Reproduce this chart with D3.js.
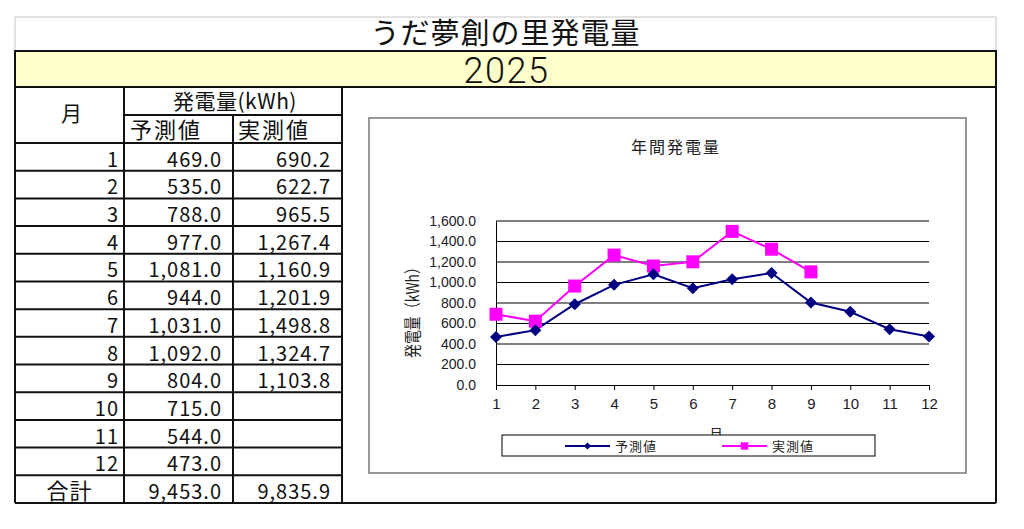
<!DOCTYPE html>
<html>
<head>
<meta charset="utf-8">
<script src="https://cdn.jsdelivr.net/npm/d3@7"></script>
<style>
  html, body { margin: 0; padding: 0; background: #fff; }
  svg { display: block; }
  .jp { font-family: "Noto Sans CJK JP", "Noto Sans", sans-serif; }
  .tick text { font-family: "Liberation Sans Narrow", "Arial Narrow", "Liberation Sans", sans-serif; fill: #1a1a2a; }
  .yax .tick text { font-size: 14px; }
  .xax .tick text { font-size: 15px; }
</style>
</head>
<body>
<div id="main"></div>
<script>
// data
var title = "うだ夢創の里発電量";
var year = "2025";
var months = [1, 2, 3, 4, 5, 6, 7, 8, 9, 10, 11, 12];
var forecast = [469, 535, 788, 977, 1081, 944, 1031, 1092, 804, 715, 544, 473];
var actual = [690.2, 622.7, 965.5, 1267.4, 1160.9, 1201.9, 1498.8, 1324.7, 1103.8];
var yTicks = [0, 200, 400, 600, 800, 1000, 1200, 1400, 1600];
var seriesNames = ["予測値", "実測値"];

var W = 1024, H = 529;
var fmt = d3.format(",.1f");

var svg = d3.select("#main").append("svg")
  .attr("width", W)
  .attr("height", H);

// ---- sheet frame ----
var L = 15, R = 996, T = 17;
var bandTop = 51, bandBot = 87;
var c1 = 124, c2 = 233, c3 = 342;
var hMid = 115, bodyTop = 143, bodyBot = 503;

// title row (light gray cell border)
svg.append("path")
  .attr("d", "M" + L + "," + bandTop + "V" + T + "H" + R + "V" + bandTop)
  .attr("fill", "none")
  .attr("stroke", "#c8c8c8")
  .attr("stroke-width", 1);

// yellow year band
svg.append("rect")
  .attr("x", L).attr("y", bandTop)
  .attr("width", R - L).attr("height", bandBot - bandTop)
  .attr("fill", "#ffffcc")
  .attr("stroke", "#111")
  .attr("stroke-width", 2);

svg.append("text")
  .attr("x", (L + R) / 2 + 1)
  .attr("y", 83)
  .attr("text-anchor", "middle")
  .style("font-family", "Roboto, 'Noto Sans', sans-serif")
  .style("font-weight", "300")
  .style("font-size", "36px")
  .style("letter-spacing", "1.5px")
  .style("fill", "#111")
  .text(year);

svg.append("text")
  .attr("class", "jp")
  .attr("x", (L + R) / 2)
  .attr("y", 44)
  .attr("text-anchor", "middle")
  .style("font-size", "29px")
  .style("letter-spacing", "1px")
  .style("fill", "#111")
  .text(title);

// ---- table ----
var nRows = months.length + 1;
var rowY = d3.scaleLinear().domain([0, nRows]).range([bodyTop, bodyBot]);

var grid = svg.append("g")
  .attr("stroke", "#111")
  .attr("stroke-width", 2)
  .attr("fill", "none");

var frameLines = [
  [L, bandBot, L, bodyBot],
  [c1, bandBot, c1, bodyBot],
  [c2, hMid, c2, bodyBot],
  [c3, bandBot, c3, bodyBot],
  [R, bandBot, R, bodyBot],
  [L, bodyBot, R, bodyBot],
  [c1, hMid, c3, hMid]
];
d3.range(nRows).forEach(function(i) {
  frameLines.push([L, rowY(i), c3, rowY(i)]);
});

grid.selectAll("line")
  .data(frameLines)
  .enter()
  .append("line")
    .attr("x1", function(d) { return d[0]; })
    .attr("y1", function(d) { return d[1]; })
    .attr("x2", function(d) { return d[2]; })
    .attr("y2", function(d) { return d[3]; });

var head = svg.append("g").attr("class", "jp").style("fill", "#111");
head.append("text")
  .attr("x", (L + c1) / 2 + 2).attr("y", 121)
  .attr("text-anchor", "middle")
  .style("font-size", "21px")
  .text("月");
head.append("text")
  .attr("x", (c1 + c3) / 2 + 2).attr("y", 109)
  .attr("text-anchor", "middle")
  .style("font-size", "21px")
  .style("letter-spacing", "0.5px")
  .text("発電量(kWh)");
head.append("text")
  .attr("x", c1 + 6).attr("y", 138)
  .style("font-size", "22px")
  .style("letter-spacing", "2px")
  .text(seriesNames[0]);
head.append("text")
  .attr("x", c2 + 5).attr("y", 138)
  .style("font-size", "22px")
  .style("letter-spacing", "2px")
  .text(seriesNames[1]);

var rows = months.map(function(m, i) {
  return {
    label: String(m),
    f: fmt(forecast[i]),
    a: actual[i] == null ? "" : fmt(actual[i])
  };
});
rows.push({ label: "合計", f: fmt(d3.sum(forecast)), a: fmt(d3.sum(actual)), total: true });

var body = svg.append("g").attr("class", "jp")
  .style("font-size", "20px")
  .style("letter-spacing", "1px")
  .style("fill", "#111");

var rowG = body.selectAll("g.row")
  .data(rows)
  .enter()
  .append("g")
    .attr("class", "row")
    .attr("transform", function(d, i) { return "translate(0," + (rowY(i + 1) - 4) + ")"; });

rowG.append("text")
  .attr("x", function(d) { return d.total ? (L + c1) / 2 : c1 - 5; })
  .attr("text-anchor", function(d) { return d.total ? "middle" : "end"; })
  .style("font-size", function(d) { return d.total ? "22px" : null; })
  .text(function(d) { return d.label; });
rowG.append("text")
  .attr("x", c2 - 11)
  .attr("text-anchor", "end")
  .text(function(d) { return d.f; });
rowG.append("text")
  .attr("x", c3 - 11)
  .attr("text-anchor", "end")
  .text(function(d) { return d.a; });

// ---- chart ----
var chart = svg.append("g");

chart.append("rect")
  .attr("x", 369).attr("y", 118)
  .attr("width", 966 - 369).attr("height", 473 - 118)
  .attr("fill", "#fff")
  .attr("stroke", "#777")
  .attr("stroke-width", 1.5);

chart.append("text")
  .attr("class", "jp")
  .attr("x", 676).attr("y", 153)
  .attr("text-anchor", "middle")
  .style("font-size", "16px")
  .style("letter-spacing", "2px")
  .style("fill", "#222")
  .text("年間発電量");

var x = d3.scalePoint().domain(months).range([496, 929]);
var y = d3.scaleLinear().domain([0, 1600]).range([385, 221]);

// gridlines
chart.append("g")
  .selectAll("line")
  .data(yTicks.slice(1))
  .enter()
  .append("line")
    .attr("x1", x(1)).attr("x2", x(12))
    .attr("y1", function(d) { return y(d); })
    .attr("y2", function(d) { return y(d); })
    .attr("stroke", "#000")
    .attr("stroke-width", 1);

var yAxis = chart.append("g")
  .attr("class", "yax")
  .attr("transform", "translate(" + x(1) + ",0)")
  .call(d3.axisLeft(y).tickValues(yTicks).tickFormat(fmt).tickSize(0).tickPadding(20));
yAxis.select(".domain").attr("stroke", "#000");

var xAxis = chart.append("g")
  .attr("class", "xax")
  .attr("transform", "translate(0," + y(0) + ")")
  .call(d3.axisBottom(x).tickSize(5).tickPadding(8));
xAxis.select(".domain").attr("stroke", "#000");
xAxis.selectAll(".tick line").attr("stroke", "#000");

chart.append("text")
  .attr("class", "jp")
  .attr("transform", "translate(419,309) rotate(-90)")
  .attr("text-anchor", "middle")
  .attr("textLength", 98)
  .attr("lengthAdjust", "spacingAndGlyphs")
  .style("font-size", "17px")
  .style("fill", "#222")
  .text("発電量（kWh）");

chart.append("text")
  .attr("class", "jp")
  .attr("x", 716).attr("y", 439)
  .attr("text-anchor", "middle")
  .style("font-size", "14px")
  .style("fill", "#222")
  .text("月");

var navy = "#000080", magenta = "#ff00ff";

var line = d3.line()
  .x(function(d) { return x(d.m); })
  .y(function(d) { return y(d.v); });

var fData = months.map(function(m, i) { return { m: m, v: forecast[i] }; });
var aData = actual.map(function(v, i) { return { m: months[i], v: v }; });

chart.append("path")
  .datum(aData)
  .attr("d", line)
  .attr("fill", "none")
  .attr("stroke", magenta)
  .attr("stroke-width", 2);

chart.append("path")
  .datum(fData)
  .attr("d", line)
  .attr("fill", "none")
  .attr("stroke", navy)
  .attr("stroke-width", 2);

var diamond = d3.symbol().type(d3.symbolSquare).size(72);
var square = d3.symbol().type(d3.symbolSquare).size(169);

chart.append("g")
  .selectAll("path")
  .data(aData)
  .enter()
  .append("path")
    .attr("d", square)
    .attr("transform", function(d) { return "translate(" + x(d.m) + "," + y(d.v) + ")"; })
    .attr("fill", magenta);

chart.append("g")
  .selectAll("path")
  .data(fData)
  .enter()
  .append("path")
    .attr("d", diamond)
    .attr("transform", function(d) { return "translate(" + x(d.m) + "," + y(d.v) + ") rotate(45)"; })
    .attr("fill", navy);

// legend
var legend = chart.append("g");
legend.append("rect")
  .attr("x", 502).attr("y", 435)
  .attr("width", 875 - 502).attr("height", 456 - 435)
  .attr("fill", "#fff")
  .attr("stroke", "#000")
  .attr("stroke-width", 1);

var items = [
  { name: seriesNames[0], color: navy, x0: 565, sym: d3.symbol().type(d3.symbolSquare).size(26), rot: 45 },
  { name: seriesNames[1], color: magenta, x0: 722, sym: d3.symbol().type(d3.symbolSquare).size(56), rot: 0 }
];

var li = legend.selectAll("g.item")
  .data(items)
  .enter()
  .append("g")
    .attr("class", "item")
    .attr("transform", function(d) { return "translate(" + d.x0 + ",446)"; });

li.append("line")
  .attr("x1", 0).attr("x2", 45)
  .attr("stroke", function(d) { return d.color; })
  .attr("stroke-width", 2);
li.append("path")
  .attr("d", function(d) { return d.sym(); })
  .attr("transform", function(d) { return "translate(22.5,0) rotate(" + d.rot + ")"; })
  .attr("fill", function(d) { return d.color; });
li.append("text")
  .attr("class", "jp")
  .attr("x", 50).attr("y", 5)
  .style("font-size", "13px")
  .style("letter-spacing", "1px")
  .style("fill", "#222")
  .text(function(d) { return d.name; });
</script>
</body>
</html>
